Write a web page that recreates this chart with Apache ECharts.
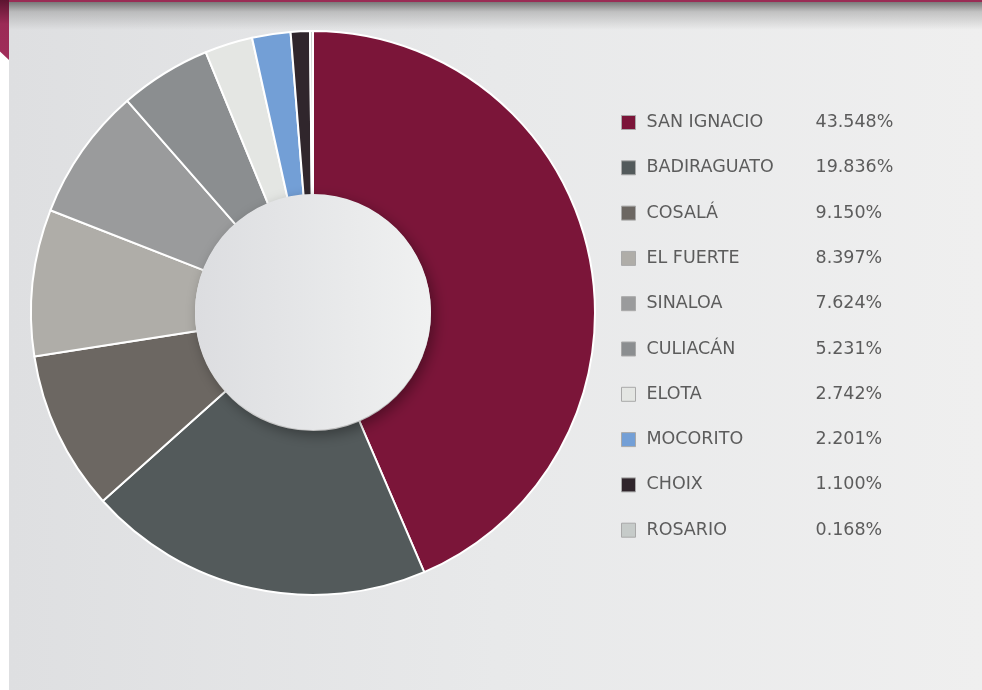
<!DOCTYPE html>
<html>
<head>
<meta charset="utf-8">
<script src="https://cdn.jsdelivr.net/npm/echarts@6/dist/echarts.min.js"></script>
<style>
html,body{margin:0;padding:0;width:982px;height:690px;background:#fff;overflow:hidden;}
#topbar{position:absolute;left:0;top:0;width:982px;height:2px;background:#9a2c55;}
#leftbar{position:absolute;left:0;top:0;width:9px;height:60px;background:linear-gradient(to bottom,#5c1430,#9b2b56 40%,#a02d5a);clip-path:polygon(0 0,100% 0,100% 100%,0 86%);}
#panel{position:absolute;left:9px;top:2px;width:973px;height:688px;background:linear-gradient(to right,#dedfe1,#e8e9ea 50%,#efefef);}
#shade{position:absolute;left:9px;top:2px;width:973px;height:28px;background:linear-gradient(to bottom,rgba(110,110,110,0.9),rgba(150,150,150,0.5) 35%,rgba(230,230,230,0));}
#chart{position:absolute;left:0;top:0;width:982px;height:690px;}
</style>
</head>
<body>
<div id="panel"></div>
<div id="shade"></div>
<div id="topbar"></div>
<div id="leftbar"></div>
<div id="chart"></div>
<script>
const categories = ['SAN IGNACIO','BADIRAGUATO','COSALÁ','EL FUERTE','SINALOA','CULIACÁN','ELOTA','MOCORITO','CHOIX','ROSARIO'];
const values = [43.548,19.836,9.150,8.397,7.624,5.231,2.742,2.201,1.100,0.168];
const colors = ['#7b1539','#535a5b','#6c6762','#afada8','#9a9b9c','#8b8e90','#e4e6e3','#739fd6','#30262c','#c6cbc9'];

const chart = echarts.init(document.getElementById('chart'));
const data = categories.map((c,i)=>({name:c,value:values[i],itemStyle:{color:colors[i]}}));
chart.setOption({
  backgroundColor:'transparent',
  animation:false,
  legend:{
    orient:'vertical',
    left:616, top:108.5,
    icon:'rect',
    itemWidth:14, itemHeight:14,
    itemGap:27.3,
    itemStyle:{borderColor:'#a9a9a9',borderWidth:1},
    data:categories,
    formatter:function(name){
      const i = categories.indexOf(name);
      return '{a|'+name+'}{b|'+values[i].toFixed(3)+'%}';
    },
    textStyle:{
      rich:{
        a:{fontFamily:'DejaVu Sans',fontSize:17.5,color:'#5c5c5c',width:169,padding:[0,0,0,6],lineHeight:14},
        b:{fontFamily:'DejaVu Sans',fontSize:17.5,color:'#5c5c5c',lineHeight:14}
      }
    }
  },
  series:[
    {
      type:'pie',
      center:[313,313],
      radius:[117,282],
      startAngle:90,
      clockwise:true,
      label:{show:false},
      labelLine:{show:false},
      silent:true,
      itemStyle:{borderColor:'#ffffff',borderWidth:2},
      data:data
    },
    {
      type:'pie',
      center:[313,312],
      radius:[0,118],
      silent:true,
      label:{show:false},
      labelLine:{show:false},
      legendHoverLink:false,
      itemStyle:{
        color:new echarts.graphic.LinearGradient(0,0,1,0,[{offset:0,color:'#dcdde0'},{offset:1,color:'#f0f1f1'}]),
        shadowBlur:14, shadowOffsetX:4, shadowOffsetY:5, shadowColor:'rgba(0,0,0,0.35)'
      },
      data:[{name:'_hole',value:1}]
    }
  ]
});
</script>
</body>
</html>
